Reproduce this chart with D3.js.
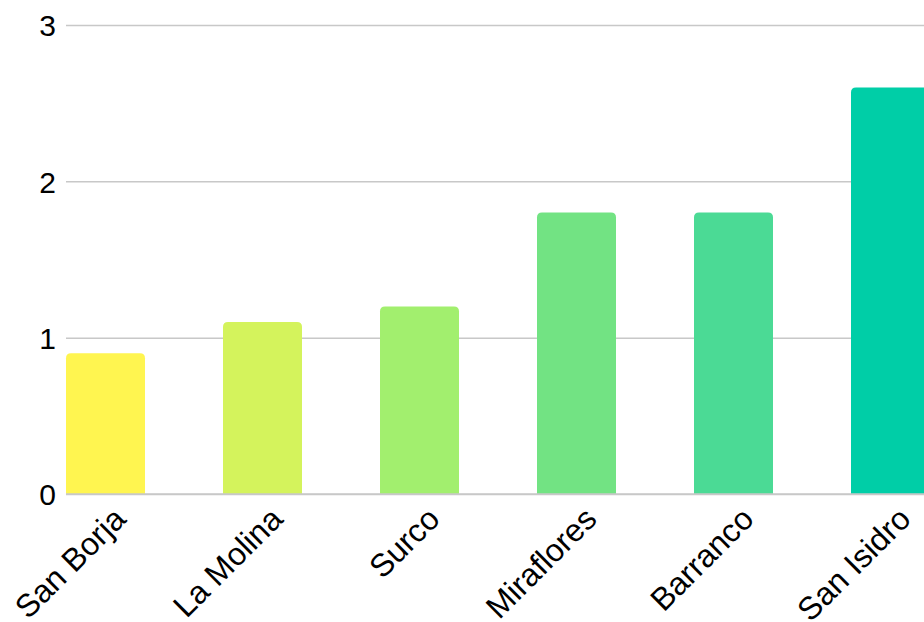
<!DOCTYPE html>
<html>
<head>
<meta charset="utf-8">
<script src="https://cdn.jsdelivr.net/npm/d3@7"></script>
<style>
  body { margin: 0; background: #fff; }
  text { font-family: "Liberation Sans", Arial, sans-serif; }
</style>
</head>
<body>
<div id="chart"></div>
<script>
var districts = ["San Borja", "La Molina", "Surco", "Miraflores", "Barranco", "San Isidro"];
var values = [0.9, 1.1, 1.2, 1.8, 1.8, 2.6];
var barColors = ["#fff550", "#d4f35c", "#a2ef6e", "#72e383", "#4bda95", "#00cea7"];
var yTicks = [0, 1, 2, 3];

var width = 924, height = 622;
var plotLeft = 66, plotTop = 25, plotBottom = 494;

var x = d3.scaleBand()
    .domain(districts)
    .range([plotLeft, plotLeft + 5 * 157 + 79])
    .paddingInner(78 / 157)
    .paddingOuter(0);

var y = d3.scaleLinear()
    .domain([0, 3])
    .range([plotBottom, plotTop]);

var color = d3.scaleOrdinal()
    .domain(districts)
    .range(barColors);

var svg = d3.select("#chart").append("svg")
    .attr("width", width)
    .attr("height", height);

// gridlines + y labels
var yAxis = d3.axisLeft(y)
    .tickValues(yTicks)
    .tickSize(-(width - plotLeft))
    .tickPadding(10)
    .tickFormat(d3.format("d"));

svg.append("g")
    .attr("transform", "translate(" + plotLeft + ",0)")
    .call(yAxis)
    .call(function(g) {
      g.select(".domain").remove();
      g.selectAll(".tick line").attr("stroke", "#c8c8c8").attr("stroke-width", 1.5);
      g.selectAll(".tick text").attr("fill", "#000").style("font-size", "30px")
        .attr("dy", "0.36em");
    });

// bars, rounded top corners only
var r = 5;
svg.append("g").selectAll("path")
    .data(districts)
    .enter().append("path")
    .attr("fill", function(d) { return color(d); })
    .attr("d", function(d, i) {
      var x0 = x(d), w = x.bandwidth(), y0 = y(values[i]), y1 = y(0);
      return "M" + x0 + "," + y1 +
        "V" + (y0 + r) +
        "Q" + x0 + "," + y0 + " " + (x0 + r) + "," + y0 +
        "H" + (x0 + w - r) +
        "Q" + (x0 + w) + "," + y0 + " " + (x0 + w) + "," + (y0 + r) +
        "V" + y1 + "Z";
    });

// baseline over bars
svg.append("line")
    .attr("x1", plotLeft).attr("x2", width)
    .attr("y1", y(0)).attr("y2", y(0))
    .attr("stroke", "#c8c8c8").attr("stroke-width", 1.5);

// x labels rotated
var xAxis = d3.axisBottom(x).tickSize(0).tickPadding(0);
svg.append("g")
    .attr("transform", "translate(0," + plotBottom + ")")
    .call(xAxis)
    .call(function(g) {
      g.select(".domain").remove();
      g.selectAll(".tick text")
        .attr("fill", "#000")
        .style("font-size", "32px")
        .attr("text-anchor", "end")
        .attr("dy", null)
        .attr("y", 0)
        .attr("transform", "translate(22,27) rotate(-45)");
    });
</script>
</body>
</html>
